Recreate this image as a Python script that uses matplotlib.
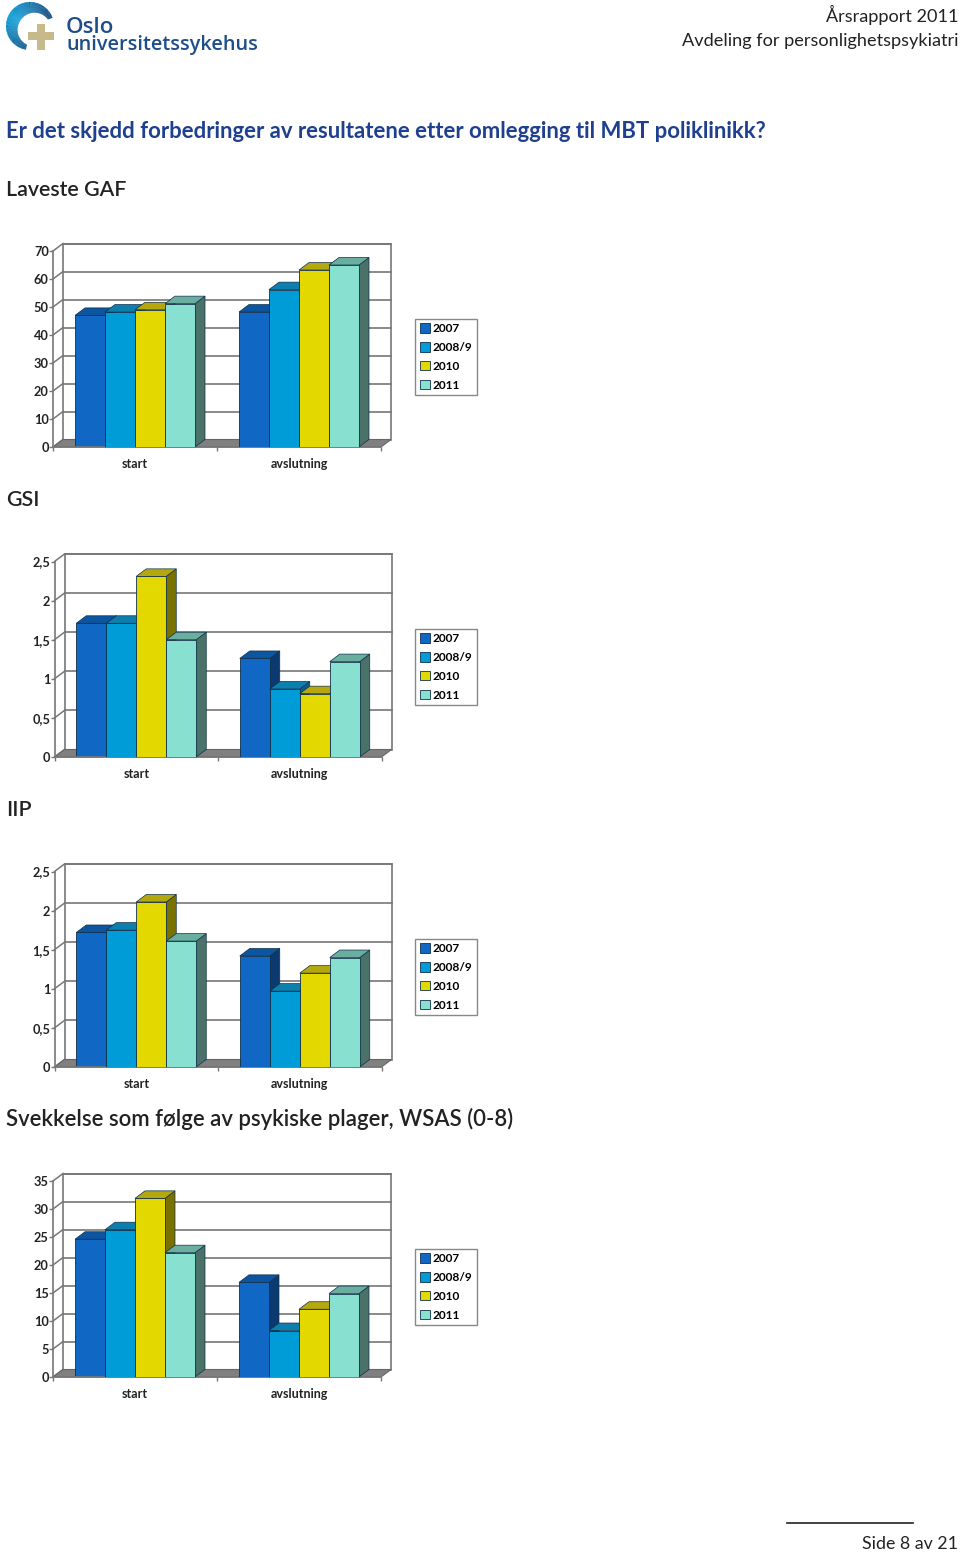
import matplotlib
matplotlib.use("Agg")
import numpy as np
import matplotlib.pyplot as plt
from matplotlib.patches import Patch, Polygon, Rectangle, Wedge

plt.rcParams["font.family"] = ["Lato", "DejaVu Sans"]

W, H = 960, 1552

series = ["2007", "2008/9", "2010", "2011"]
categories = ["start", "avslutning"]

gaf_values = [[47.0, 48.2, 49.0, 51.2], [48.2, 56.2, 63.2, 65.0]]
gsi_values = [[1.71, 1.71, 2.31, 1.50], [1.26, 0.87, 0.81, 1.22]]
iip_values = [[1.72, 1.75, 2.11, 1.61], [1.42, 0.97, 1.20, 1.40]]
wsas_values = [[24.6, 26.3, 31.9, 22.2], [16.9, 8.3, 12.1, 14.9]]

gaf_ticks = [0, 10, 20, 30, 40, 50, 60, 70]
gsi_ticks = [0, 0.5, 1, 1.5, 2, 2.5]
wsas_ticks = [0, 5, 10, 15, 20, 25, 30, 35]

FRONT = ["#1068c4", "#009cd8", "#e3d800", "#88e0d0"]
TOP = ["#0c55a0", "#0d7fae", "#b5a80f", "#6aae9f"]
SIDE = ["#0a3a70", "#085f85", "#7a7200", "#4a7268"]
GRID = "#777777"
DEPTH_X, DEPTH_Y = 10, 7.5  # 3d offset, pixels


def tick_label(v):
    return str(v).replace(".", ",")


def draw_chart(fig, page, left, width, y0, y1, values, ticks):
    """y0 / y1 = pixel row of the lowest and highest tick on the front plane."""
    ax = fig.add_axes([left / W, 1 - y0 / H, width / W, (y0 - y1) / H])
    ax.set_xlim(-0.5, 1.5)
    ax.set_ylim(ticks[0], ticks[-1])
    ax.patch.set_visible(False)
    dx = DEPTH_X * 2 / width
    dy = DEPTH_Y * ticks[-1] / (y0 - y1)
    bar_w = 60 / width

    # back wall + gridlines + floor
    ax.add_patch(Rectangle((-0.5 + dx, dy), 2, ticks[-1], fc="white", ec=GRID,
                           lw=1.2, clip_on=False, zorder=1))
    ax.add_patch(Polygon([(-0.5, 0), (-0.5 + dx, dy), (1.5 + dx, dy), (1.5, 0)],
                         fc="#808080", ec="#666666", lw=0.8, clip_on=False, zorder=1.5))
    for t in ticks:
        ax.plot([-0.5, -0.5 + dx], [t, t + dy], color=GRID, lw=1.1, clip_on=False, zorder=1.2)
        if t > 0:
            ax.plot([-0.5 + dx, 1.5 + dx], [t + dy, t + dy], color=GRID, lw=1.2,
                    clip_on=False, zorder=1.2)

    # bars, left to right so later fronts hide earlier sides
    z = 2
    for i, group in enumerate(values):
        for j, v in enumerate(group):
            x = i + (j - 2) * bar_w
            ax.bar(x, v, bar_w, align="edge", color=FRONT[j], edgecolor="#10304a",
                   linewidth=0.6, zorder=z + 0.2)
            ax.add_patch(Polygon([(x + bar_w, 0), (x + bar_w + dx, dy), (x + bar_w + dx, v + dy), (x + bar_w, v)],
                                 fc=SIDE[j], ec="#10304a", lw=0.5, clip_on=False, zorder=z))
            ax.add_patch(Polygon([(x, v), (x + dx, v + dy), (x + bar_w + dx, v + dy), (x + bar_w, v)],
                                 fc=TOP[j], ec="#10304a", lw=0.5, clip_on=False, zorder=z + 0.1))
            z += 1

    for s in ["top", "right"]:
        ax.spines[s].set_visible(False)
    for s in ["left", "bottom"]:
        ax.spines[s].set_color(GRID)
        ax.spines[s].set_linewidth(1.2)
    ax.set_yticks(ticks)
    ax.set_yticklabels([tick_label(t) for t in ticks], fontsize=9.2, fontweight="bold", color="#222222")
    ax.tick_params(axis="y", length=3, width=1, color=GRID, pad=0)
    ax.set_xticks([-0.5, 0.5, 1.5])
    ax.set_xticklabels([])
    ax.tick_params(axis="x", which="major", length=3, width=1, color=GRID)
    ax.set_xticks([0, 1], minor=True)
    ax.set_xticklabels(categories, minor=True, fontsize=9.0, fontweight="bold", color="#222222")
    ax.tick_params(axis="x", which="minor", length=0, pad=8.2)

    handles = [Patch(fc=FRONT[k], ec="#10304a", lw=0.6, label=series[k]) for k in range(4)]
    ax.legend(handles=handles, loc="upper left", bbox_to_anchor=(415, y0 - 128.5),
              bbox_transform=page.transData, borderaxespad=0, frameon=True, fancybox=False,
              edgecolor="#888888", framealpha=1, ncol=1,
              handlelength=0.84, handleheight=0.84, handletextpad=0.25,
              labelspacing=0.66, borderpad=0.38,
              prop={"size": 8.6, "weight": "bold"})
    return ax


fig = plt.figure(figsize=(W / 100, H / 100), dpi=100)
page = fig.add_axes([0, 0, 1, 1])
page.set_xlim(0, W)
page.set_ylim(H, 0)
page.axis("off")

# logo
steps = 120
for k in range(steps):
    a0 = 20 + k * 240 / steps
    shade = abs(k / steps - 0.55) * 1.6
    c = np.array([0, 0.60, 0.84]) * (1 - shade) + np.array([0.05, 0.22, 0.42]) * shade
    page.add_patch(Wedge((30, 26), 24, -a0 - 2.4, -a0, width=5 + 8 * np.sin(k / steps * np.pi),
                         fc=c, ec="none"))
page.add_patch(Rectangle((28, 32), 26, 8, fc="#c8b98a", ec="none"))
page.add_patch(Rectangle((37, 23.5), 8, 26, fc="#c8b98a", ec="none"))
page.text(66, 33, "Oslo", fontsize=16, fontweight="semibold", color="#1d4e89", family="Open Sans", va="baseline")
page.text(66, 50, "universitetssykehus", fontsize=14.3, fontweight="semibold", color="#1d4e89", family="Open Sans", va="baseline")

# page text
page.text(958, 22, "Årsrapport 2011", fontsize=13.1, ha="right", color="#222222")
page.text(958, 46, "Avdeling for personlighetspsykiatri", fontsize=13.1, ha="right", color="#222222")
page.text(6, 138, "Er det skjedd forbedringer av resultatene etter omlegging til MBT poliklinikk?",
          fontsize=15.9, fontweight="bold", color="#1f3f8f")
page.text(6, 196, "Laveste GAF", fontsize=15.4, fontweight="semibold", color="#222222")
page.text(6, 506, "GSI", fontsize=15.4, fontweight="semibold", color="#222222")
page.text(6, 816, "IIP", fontsize=15.4, fontweight="semibold", color="#222222")
page.text(6, 1126, "Svekkelse som følge av psykiske plager, WSAS (0-8)", fontsize=15.9,
          fontweight="semibold", color="#222222")
page.plot([787, 913], [1523, 1523], color="#222222", lw=1.2)
page.text(958, 1549, "Side 8 av 21", fontsize=12.8, ha="right", color="#222222")

draw_chart(fig, page, 53, 328, 447, 251, gaf_values, gaf_ticks)
draw_chart(fig, page, 54.5, 327, 757, 561.5, gsi_values, gsi_ticks)
draw_chart(fig, page, 54.5, 327, 1067, 871.5, iip_values, gsi_ticks)
draw_chart(fig, page, 53, 328, 1377, 1181, wsas_values, wsas_ticks)

fig.savefig("out.png", dpi=100)
